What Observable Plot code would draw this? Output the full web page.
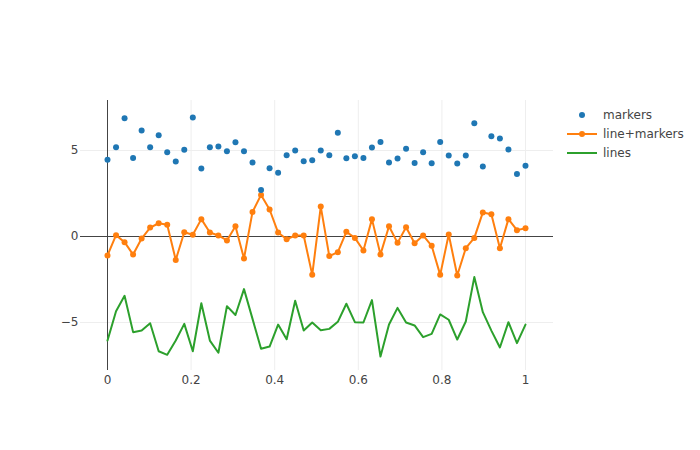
<!DOCTYPE html>
<html>
<head>
<meta charset="utf-8">
<script src="https://cdn.jsdelivr.net/npm/d3@7"></script>
<script src="https://cdn.jsdelivr.net/npm/@observablehq/plot@0.6"></script>
<style>
  html, body { margin: 0; padding: 0; background: #fff; }
  #chart { width: 700px; height: 450px; }
  svg { font-family: "DejaVu Sans", verdana, arial, sans-serif; }
</style>
</head>
<body>
<div id="chart"></div>
<script>
const n = 50;
const xs = d3.range(n).map(i => i / (n - 1));
const markersY = [4.46,5.19,6.88,4.57,6.16,5.19,5.89,4.90,4.36,5.04,
  6.92,3.95,5.19,5.23,4.96,5.48,4.96,4.30,2.71,3.97,
  3.70,4.73,5.00,4.38,4.44,5.00,4.73,6.03,4.55,4.67,
  4.57,5.17,5.50,4.30,4.53,5.10,4.28,4.90,4.26,5.50,
  4.71,4.24,4.71,6.59,4.07,5.83,5.70,5.06,3.64,4.11];
const lineMarkersY = [-1.10,0.08,-0.33,-1.05,-0.12,0.52,0.77,0.68,-1.36,0.25,
  0.10,1.01,0.23,0.06,-0.23,0.60,-1.28,1.43,2.42,1.57,
  0.23,-0.16,0.06,0.06,-2.23,1.74,-1.14,-0.91,0.27,-0.08,
  -0.81,1.01,-1.04,0.60,-0.37,0.54,-0.39,0.06,-0.54,-2.23,
  0.12,-2.27,-0.68,-0.08,1.40,1.30,-0.68,1.01,0.37,0.48];
const linesY = [-6.05,-4.34,-3.45,-5.56,-5.47,-5.04,-6.67,-6.88,-6.05,-5.08,
  -6.67,-3.88,-6.05,-6.76,-4.05,-4.56,-3.06,-4.79,-6.53,-6.40,
  -5.12,-5.97,-3.74,-5.47,-5.00,-5.45,-5.37,-4.96,-3.91,-4.98,
  -5.00,-3.70,-6.98,-5.12,-4.15,-5.00,-5.17,-5.85,-5.66,-4.53,
  -4.84,-5.99,-4.94,-2.36,-4.40,-5.47,-6.45,-4.98,-6.20,-5.12];
const xTicks = [0, 0.2, 0.4, 0.6, 0.8, 1];
const yTicks = [-5, 0, 5];
const seriesNames = ["markers", "line+markers", "lines"];
const colors = ["#1f77b4", "#ff7f0e", "#2ca02c"];

const mk = markersY.map((y, i) => ({x: xs[i], y}));
const lm = lineMarkersY.map((y, i) => ({x: xs[i], y}));
const ln = linesY.map((y, i) => ({x: xs[i], y}));
const yFmt = d => d < 0 ? "\u2212" + Math.abs(d) : String(d);
const FONT = '"DejaVu Sans", verdana, arial, sans-serif';

const plot = Plot.plot({
  width: 700,
  height: 450,
  marginLeft: 80,
  marginRight: 147,
  marginTop: 100,
  marginBottom: 80,
  style: {fontFamily: FONT, fontSize: "12px", color: "#444", background: "#fff"},
  x: {domain: [-0.0646, 1.067], ticks: xTicks, tickFormat: d => String(d), label: null},
  y: {domain: [-7.79, 7.907], ticks: yTicks, tickFormat: yFmt, label: null},
  marks: [
    Plot.gridX(xTicks.filter(d => d !== 0), {stroke: "#eee", strokeOpacity: 1, strokeWidth: 1}),
    Plot.gridY(yTicks.filter(d => d !== 0), {stroke: "#eee", strokeOpacity: 1, strokeWidth: 1}),
    Plot.ruleX([0], {stroke: "#444", strokeWidth: 1}),
    Plot.ruleY([0], {stroke: "#444", strokeWidth: 1}),
    Plot.axisX({ticks: xTicks, tickSize: 0, tickPadding: 5, fontSize: 12, fill: "#444", tickFormat: d => String(d), label: null}),
    Plot.axisY({ticks: yTicks, tickSize: 0, tickPadding: 2, fontSize: 12, fill: "#444", tickFormat: yFmt, label: null}),
    Plot.line(ln, {x: "x", y: "y", stroke: colors[2], strokeWidth: 2, curve: "linear"}),
    Plot.line(lm, {x: "x", y: "y", stroke: colors[1], strokeWidth: 2, curve: "linear"}),
    Plot.dot(lm, {x: "x", y: "y", fill: colors[1], r: 3, stroke: "none"}),
    Plot.dot(mk, {x: "x", y: "y", fill: colors[0], r: 3, stroke: "none"})
  ]
});
document.getElementById("chart").appendChild(plot);

// legend (plotly-style, right of plot)
const svg = d3.select(plot);
const lg = svg.append("g").attr("transform", "translate(567,115)").attr("text-anchor", "start");
seriesNames.forEach((name, i) => {
  const g = lg.append("g").attr("transform", `translate(0,${i * 19})`);
  if (i > 0) g.append("line").attr("x1", 0).attr("x2", 30).attr("y1", 0).attr("y2", 0)
    .attr("stroke", colors[i]).attr("stroke-width", 2);
  if (i < 2) g.append("circle").attr("cx", 15).attr("cy", 0).attr("r", 3).attr("fill", colors[i]);
  g.append("text").attr("x", 36).attr("y", 0).attr("dy", "0.35em")
    .attr("text-anchor", "start")
    .attr("font-size", 12).attr("fill", "#444")
    .attr("font-family", FONT)
    .text(name);
});
</script>
</body>
</html>
